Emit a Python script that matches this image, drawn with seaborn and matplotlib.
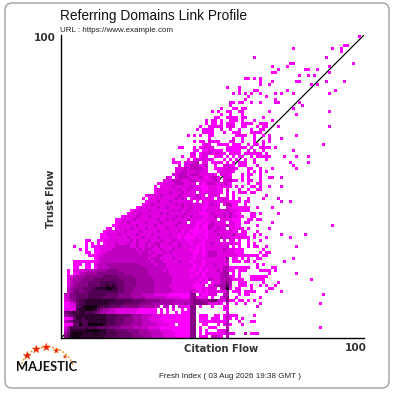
import numpy as np
import seaborn as sns
import matplotlib
matplotlib.use("Agg")
import matplotlib.pyplot as plt
from matplotlib.colors import ListedColormap
from matplotlib.patches import FancyBboxPatch, Arc

# Domain counts per Citation Flow / Trust Flow cell, as darkness levels 1-9 ("." = no domains)
# Rows for Trust Flow 0-50, Citation Flow 0-48, in groups of seven columns
lower_left = [
    ".569998 8888888 7777766 6665554 4433332 2221111 155.111",
    ".468999 8888988 8777766 6655544 4433332 2221111 155.1.1",
    ".358888 8999998 8777666 6555544 4333322 2211111 155.1.1",
    ".247777 7777766 6655554 4443333 3222211 1111111 155.1..",
    ".111669 7799999 8777665 5544443 3333222 211.111 155..11",
    ".345778 7788888 8777666 5554443 3322221 1111111 155.111",
    ".112688 7888888 8777666 5554443 3222211 1111111 155.111",
    ".456788 8888888 8777766 6654443 3322221 1111111 155.111",
    ".567878 8777654 4333222 2222111 1111.1. 1..1.11 155....",
    ".221278 8999865 4433222 2222211 1111.1. 1.1..1. 155....",
    ".112267 8999987 7766665 5555544 44433.3 3.3.211 155.1..",
    ".112367 7888888 8877777 6666655 5544444 4433334 3455554",
    ".234567 7888888 8888777 7776666 5555544 4443333 3455544",
    ".235566 6677777 6666655 5554444 3333333 2222211 1452122",
    ".335566 6677777 7666655 5544443 3332222 2111111 145.211",
    "..34565 5667777 7777766 5554444 4443333 3322222 2322121",
    "..34555 6667788 8998766 5554444 4443333 3322222 2221121",
    "..23455 5566667 7878766 5555444 4443333 3222222 221112.",
    "..23445 5566667 7777666 5555444 4443333 3322222 2221211",
    "..23444 5555666 6666665 5555444 4443333 3322222 2222121",
    "..22344 4555555 6666655 5554444 4433333 3322222 2122212",
    "..1.113 3444455 5555555 4444444 4333333 3222222 2221212",
    "..1.222 2333444 4555544 4444444 4333332 3222222 2122121",
    "....11. .11.133 3344444 4444444 3333333 2222222 2212122",
    "....111 .11.233 3444444 4444433 3332333 2222222 2212212",
    "....111 1111123 3333333 3333333 3323332 2222322 2122212",
    "....... ....123 3333333 3333333 3233322 2232222 2212222",
    "....... ..11122 3333333 3333333 3322332 2222222 2212212",
    "....... .11.112 2333333 3333323 3232223 2322222 2211212",
    "......1 .1..112 2223333 3333232 3322232 2232222 2121212",
    "....1.. .1.1112 2222333 3322322 3232322 2222322 2221212",
    "....... .1.1.1. 1222322 2322322 3223322 2322322 2122112",
    "....... .11..11 2222222 2232322 2322232 2232222 1222212",
    "....... ......1 1122222 2322223 2222322 2222121 1112121",
    "....... ......1 1222232 2222322 2232222 2322122 1211211",
    "....... ....... 1222222 3222232 2222322 2222312 2111121",
    "....... ....... .11.222 2232222 3222222 3222222 2211211",
    "....... ....... ...1122 2222322 2223222 2223222 2221211",
    "....... ....... ....122 2322222 3222232 2222322 .221121",
    "....... ....... ....112 2223222 2222322 3232222 3222212",
    "....... ....... ......1 2222322 2322222 2223232 2322221",
    "....... ....... ....... .122232 2222232 3222223 2222111",
    "....... ....... ....... ..12222 2322222 2232322 3222212",
    "....... ....... ....... ....122 2222322 3222232 2322211",
    "....... ....... ....... ......1 2232222 2223232 3222221",
    "....... ....... ....... ....... 1222322 2322222 22.1.21",
    "....... ....... ....... ......1 .122222 2223232 .222212",
    "....... ....... ....... ....... 1222232 2222322 222322.",
    "....... ....... ....... ....... ...1222 2322232 222.212",
    "....... ....... ....... ....... ...1222 2222322 3222211",
    "....... ....... ....... ....... ...1.22 2232222 2322111",
]

# Rows for Trust Flow 51-72: first Citation Flow column, then levels up to column 48
upper_left_start = [32, 34, 35, 37, 38, 38, 39, 37, 37, 40, 43, 44, 39, 47, 44, 48, 42, 47, 45, 46, 48, 48]
upper_left_levels = [
    "1122223332222.212", "222333222332222", "21.23333222321", "223332333222",
    "22332223222", "22232333322", "2.22333223", "111.22233.22", "1....1.12222",
    "1..11.122", "12.122", "11.11", "11...1.122", "12", "1.11.", ".", "1.1.1..",
    "11", "1.111", "1", "1", "1",
]

# Rows for Trust Flow 0-75, starting at Citation Flow 49
right_levels = [
    ".3321.3", "111112411...3.111", "...1124", "111...3", "...1.241...1",
    "1121113...1", ".111.131.1.1", "..11.13111", "......2", ".....12",
    ".1...12", "22221.3..1..1", "566322511.11.1.1", ".1..235..1", "222..34...1.11",
    "2222224.111.1111", "222.3491.11", "22334463..111", ".1223453..111", "332233431111",
    "222234421.1", "2222344.1.1", "222324311.111", "22222341111111", "2232222",
    "2222223.111.11.1", "2222224.11.1.1", "33322222221111111", "333222222111", "222223222111",
    "2222223.1.1..1.11", "23222222111..1.1", "2222.2.22.1..1", "22223222212111.1", "2223222232111..1",
    "2232222212.11", "322322.22121.1", "33222232211", "232222.2211.11", "222.2222111..11.11",
    "223223232211..11", "23222323211...11", "22222232221111", "2222..22111111", "2322.24311..1",
    "22212221111.11", "21.2222.1.1..1", "2221..2.1", "22211.2.1.111.11", "22211.2...1..1",
    "22212121.1.1", "33222321.....1", "2232.23321.1.11", "2332.222...1.1", "221.2221...1.11",
    "...122221....1", "..11122221...11", "..1..2211.111", ".1111.1.1.111", "21...1.1.1..1",
    "..111.1.1.11", "222211.1111.111111", "22111.11111", "22....1111111", "1..1111.111",
    "2111...12..1", "1.......1..1", "11.......1111", "11...1..111...1111", ".1..1..1..1...1",
    "11111.122..11", ".11.1.111..1111", ".11.1..111.1", "..11..1111.11", "....1..1...1",
    ".1.1..11..11",
]

# Lone cells further out, Trust Flow -> Citation Flow columns
outliers = {
    100: [99], 97: [94, 95], 96: [77, 90, 93], 95: [93], 93: [64, 88], 91: [76, 77, 97],
    90: [70, 75, 89], 89: [72, 81, 82, 85], 88: [70, 71, 89], 87: [79, 82, 84],
    86: [61, 62, 64, 66], 85: [66, 70, 78, 79, 88, 94], 84: [66, 69, 83, 85], 83: [55, 59],
    82: [59, 64, 65, 75, 91], 81: [57, 59, 61, 63, 66, 71, 73, 77, 89], 80: [62, 68],
    79: [61, 71], 78: [56, 57, 59, 60, 63, 66, 71, 72, 79], 77: [56, 80],
    76: [53, 57, 58, 60, 61, 77], 75: [69, 89], 74: [78], 73: [67], 72: [64, 70],
    71: [66, 67, 68], 70: [65, 67, 68, 72, 89], 69: [66, 67], 67: [64, 67, 69, 78],
    66: [64, 69, 73], 65: [64, 67, 69], 64: [62, 64, 65, 67, 87], 63: [63, 66, 67, 68, 69, 71],
    62: [62, 64, 67, 77], 61: [68], 60: [63, 65, 66, 67, 68, 69, 74, 78, 82], 59: [64, 68],
    58: [64, 76, 82], 57: [65, 77], 56: [66, 70, 78], 55: [64, 66, 68], 54: [66],
    53: [66, 69, 70, 73], 52: [66], 51: [65, 66], 50: [63, 64, 66, 69, 73], 49: [65, 66],
    47: [68], 46: [67, 72], 45: [73, 76], 43: [65, 70], 41: [66, 72], 38: [70], 37: [65, 90],
    36: [69], 35: [65], 34: [66, 73, 81], 33: [68, 76], 32: [66], 30: [68, 78], 29: [67],
    28: [66, 68, 69], 27: [67, 68], 26: [65, 66, 77], 25: [74], 24: [65, 67], 23: [65, 70, 71],
    22: [66, 67, 68, 69, 71], 21: [69, 78], 20: [63, 64, 65, 66, 67, 68],
    19: [63, 64, 65, 66, 67, 83], 18: [67, 72], 17: [63, 66, 68, 71], 16: [63, 69, 70],
    15: [68, 73], 14: [87], 13: [66], 11: [66, 86], 10: [65], 7: [64], 5: [63, 64], 3: [86],
}

level_colors = ["#ff00ff", "#e000e0", "#c000c0", "#a400a4", "#880088",
                "#6a006a", "#500050", "#300030", "#120012"]

tf_axis_max = 100

grid = np.full((tf_axis_max + 1, tf_axis_max + 1), np.nan)


def put_levels(tf, start, levels):
    for offset, ch in enumerate(levels.replace(" ", "")):
        if ch != ".":
            grid[tf, start + offset] = int(ch)


for tf, levels in enumerate(lower_left):
    put_levels(tf, 0, levels)
for idx, levels in enumerate(upper_left_levels):
    put_levels(51 + idx, upper_left_start[idx], levels)
for tf, levels in enumerate(right_levels):
    put_levels(tf, 49, levels)
for tf, cols in outliers.items():
    for col in cols:
        grid[tf, col] = 1

sns.set_style("white")
plt.rcParams["font.family"] = ["Liberation Sans", "DejaVu Sans"]

fig = plt.figure(figsize=(4, 4), dpi=100)

# Page furniture in pixel coordinates
page = fig.add_axes([0, 0, 1, 1])
page.set_xlim(0, 400)
page.set_ylim(400, 0)
page.axis("off")
page.add_patch(FancyBboxPatch((5, 3), 384, 385, boxstyle="round,pad=0,rounding_size=7",
                              fc="white", ec="#a0a0a0", lw=1))

page.text(60, 16, "Referring Domains Link Profile", fontsize=9.9, color="#111111", va="center")
page.text(60, 30, "URL : https://www.example.com", fontsize=5.8, color="#222222", va="center")
page.text(56, 38, "100", fontsize=7.6, fontweight="bold", family="DejaVu Sans", color="#333333",
          ha="right", va="center")
page.text(51, 199, "Trust Flow", fontsize=7.2, fontweight="bold", family="DejaVu Sans", color="#333333",
          rotation=90, ha="center", va="center")
page.text(221, 349, "Citation Flow", fontsize=7.2, fontweight="bold", family="DejaVu Sans", color="#333333",
          ha="center", va="center")
page.text(367, 348, "100", fontsize=7.6, fontweight="bold", family="DejaVu Sans", color="#333333",
          ha="right", va="center")
page.text(230, 377, "Fresh Index ( 03 Aug 2026 19:38 GMT )", fontsize=5.75, color="#222222",
          ha="center", va="center")

# Majestic logo
page.text(46.5, 367, "MAJESTIC", fontsize=9.3, fontweight="bold", family="Lato", color="#111111",
          ha="center", va="center")
page.add_patch(Arc((47, 372), 54, 50, theta1=190, theta2=345, color="#f08000", lw=0.9, ls=(0, (1.5, 1.5))))
star_x = [27.3, 36.3, 46.3, 56.3, 65]
star_y = [355.7, 349.3, 347.3, 350.7, 356.7]
star_size = [38, 38, 38, 18, 8]
page.scatter(star_x, star_y, s=star_size, marker="*", color="#e8200c", edgecolor="#f05000", linewidth=0.3)

# Heat map: the diagonal sits beneath the cells, so it only shows through empty ones
ax = fig.add_axes([61 / 400, 62 / 400, 303 / 400, 303 / 400])
ax.patch.set_alpha(0)
ax.plot([0, tf_axis_max + 1], [0, tf_axis_max + 1], color="black", lw=0.9, zorder=0.5)
sns.heatmap(grid, ax=ax, cmap=ListedColormap(level_colors), vmin=0.5, vmax=9.5,
            cbar=False, xticklabels=False, yticklabels=False)
ax.set_xlim(0, tf_axis_max + 1)
ax.set_ylim(0, tf_axis_max + 1)
ax.tick_params(length=0)
for side in ["left", "bottom"]:
    ax.spines[side].set_visible(True)
    ax.spines[side].set_color("black")
    ax.spines[side].set_linewidth(1)

fig.savefig("out.png", dpi=100)
